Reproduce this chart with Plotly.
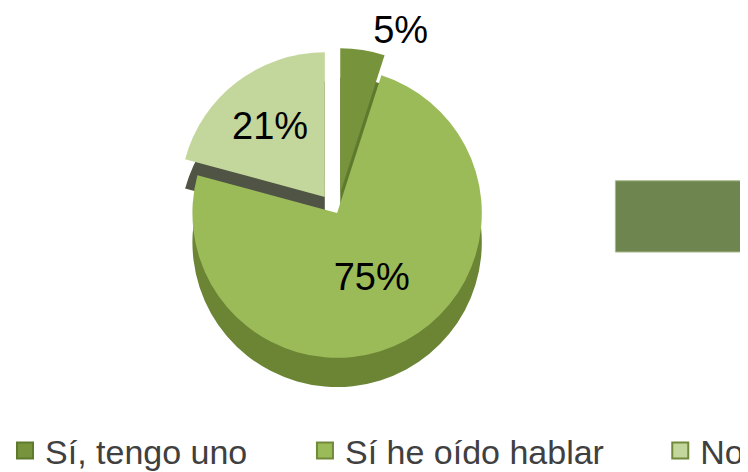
import plotly.graph_objects as go

labels = ["Sí, tengo uno", "Sí he oído hablar", "No"]
values = [5, 75, 21]
pct_text = ["5%", "75%", "21%"]
pulls = [0.14, 0.0, 0.14]

top_colors = ["#77933C", "#9BBB59", "#C3D69B"]
side_colors = ["#5E7A2E", "#6B8535", "#4F5445"]
legend_edge = ["#5F7A2C", "#71893A", "#71893A"]
legend_x = [-0.004, 0.397, 0.872]

dom_x = [0.19, 0.69]
dom_y = [0.216, 0.915]
shift = 0.062

fig = go.Figure()

# side (depth) layer
fig.add_trace(go.Pie(
    labels=labels, values=values, sort=False, direction="clockwise", rotation=0,
    pull=pulls, marker=dict(colors=side_colors, line=dict(width=0)),
    textinfo="none", hoverinfo="skip", showlegend=False,
    domain=dict(x=dom_x, y=[dom_y[0] - shift, dom_y[1] - shift]),
))

# top face
fig.add_trace(go.Pie(
    labels=labels, values=values, sort=False, direction="clockwise", rotation=0,
    pull=pulls, marker=dict(colors=top_colors, line=dict(width=0)),
    text=pct_text, textinfo="text", textposition=["outside", "inside", "inside"],
    insidetextorientation="horizontal",
    textfont=dict(family="Liberation Sans, Arial, sans-serif", size=38, color="#000000"),
    domain=dict(x=dom_x, y=dom_y), showlegend=False,
))

# legend entries (one legend per category so spacing matches)
for i, lab in enumerate(labels):
    lg = "legend" if i == 0 else f"legend{i+1}"
    fig.add_trace(go.Scatter(
        x=[None], y=[None], mode="markers", name=lab,
        marker=dict(symbol="square", size=16, color=top_colors[i],
                    line=dict(color=legend_edge[i], width=2)),
        legend=lg, hoverinfo="skip",
    ))

fig.add_shape(type="rect", xref="paper", yref="paper",
              x0=0.812, x1=1.01, y0=0.483, y1=0.634,
              fillcolor="#6E8550", line=dict(color="#A9BB8C", width=1), layer="above")

leg_font = dict(family="Liberation Sans, Arial, sans-serif", size=34, color="#404040")
legend_common = dict(orientation="h", xanchor="left", y=0.0, yanchor="bottom",
                     font=leg_font, itemwidth=30, bgcolor="rgba(0,0,0,0)")

fig.update_layout(
    width=748, height=472,
    margin=dict(l=0, r=0, t=0, b=0, autoexpand=False),
    paper_bgcolor="white", plot_bgcolor="white",
    xaxis=dict(visible=False), yaxis=dict(visible=False),
    legend=dict(x=legend_x[0], **legend_common),
    legend2=dict(x=legend_x[1], **legend_common),
    legend3=dict(x=legend_x[2], **legend_common),
)

fig.write_html("out.html")
